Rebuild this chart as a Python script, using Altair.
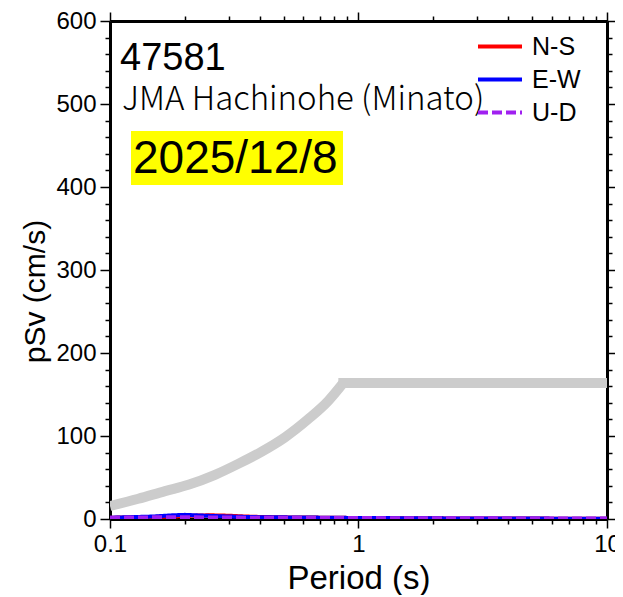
import altair as alt
import pandas as pd

# ---- data ----
ref_period = [0.1, 0.13, 0.1665, 0.2066, 0.2645, 0.328, 0.408, 0.506, 0.628, 0.756, 0.869, 10]
ref_psv = [15.6, 24.4, 33.6, 41.2, 53.2, 66.4, 81.2, 98.4, 120.4, 142.4, 164, 164]
ref_corner_period = 0.869

comp_period = [0.1, 0.12, 0.15, 0.18, 0.2, 0.22, 0.25, 0.3, 0.35, 0.4, 0.5, 0.6, 0.8, 1, 1.5, 2, 3, 5, 7, 10]
ns_psv = [1.5, 2, 2.5, 3, 3.5, 4, 4.5, 4, 3, 2.5, 2, 1.8, 1.5, 1.2, 1, 0.8, 0.6, 0.5, 0.4, 0.3]
ew_psv = [1.5, 2.2, 3, 4.5, 5, 4.5, 3.8, 3, 2.5, 2.2, 2, 1.8, 1.5, 1.2, 1, 0.8, 0.6, 0.5, 0.4, 0.3]
ud_psv = [1.5, 1.7, 2, 2, 2, 2, 1.9, 1.8, 1.6, 1.5, 1.4, 1.3, 1.2, 1.1, 1, 0.9, 0.8, 0.7, 0.6, 0.5]

components = ["N-S", "E-W", "U-D"]
comp_colors = ["#ff0000", "#0000ff", "#a020f0"]
comp_dash = [[1, 0], [1, 0], [10, 4]]

x_ticks = [0.1, 0.2, 0.3, 0.4, 0.5, 0.6, 0.7, 0.8, 0.9, 1, 2, 3, 4, 5, 6, 7, 8, 9, 10]
y_ticks = list(range(0, 620, 20))

station_code = "47581"
station_name = "JMA Hachinohe (Minato)"
event_date = "2025/12/8"

FONT = "Liberation Sans"

ref_df = pd.DataFrame({"period": ref_period, "psv": ref_psv})
rows = []
for name, vals in zip(components, [ns_psv, ew_psv, ud_psv]):
    for p, v in zip(comp_period, vals):
        rows.append({"period": p, "psv": v, "comp": name})
comp_df = pd.DataFrame(rows)

x_scale = alt.Scale(type="log", domain=[0.1, 10], nice=False)
y_scale = alt.Scale(domain=[0, 600], nice=False, zero=False)

x_major = "datum.value == 0.1 || datum.value == 1 || datum.value == 10"
y_major = "datum.value % 100 == 0"

x_tick_size = {"condition": {"test": x_major, "value": 9}, "value": 5}
y_tick_size = {"condition": {"test": y_major, "value": 10}, "value": 5}

common_axis = dict(grid=False, domainColor="black", domainWidth=3, tickColor="black",
                   tickWidth=1.5, labelFont=FONT, titleFont=FONT, labelColor="black",
                   titleColor="black", titleFontWeight="normal")

x_bottom = alt.Axis(orient="bottom", values=x_ticks, tickSize=x_tick_size,
                    labelExpr=f"({x_major}) ? format(datum.value, '~g') : ''",
                    labelFontSize=24, labelPadding=4, labelFlush=False, labelOverlap=False,
                    title="Period (s)", titleFontSize=33, titleBaseline="alphabetic",
                    titleY=69, **common_axis)
y_left = alt.Axis(orient="left", values=y_ticks, tickSize=y_tick_size,
                  labelExpr=f"({y_major}) ? datum.label : ''",
                  labelFontSize=24, labelPadding=4, labelOverlap=False,
                  title="pSv (cm/s)", titleFontSize=30, titleBaseline="alphabetic",
                  titleAngle=270, titleX=-66, titleY=270, titleAlign="center", **common_axis)
x_top = alt.Axis(orient="top", values=x_ticks, tickSize=x_tick_size, labels=False,
                 title=None, **common_axis)
y_right = alt.Axis(orient="right", values=y_ticks, tickSize=y_tick_size, labels=False,
                   title=None, **common_axis)

ref_rise = alt.Chart(ref_df).transform_filter(
    f"datum.period <= {ref_corner_period}"
).mark_line(color="#cccccc", strokeWidth=10, clip=True, interpolate="monotone").encode(
    x=alt.X("period:Q", scale=x_scale, axis=x_bottom),
    y=alt.Y("psv:Q", scale=y_scale, axis=y_left),
)

ref_flat = alt.Chart(ref_df).transform_filter(
    f"datum.period >= {ref_corner_period}"
).mark_line(color="#cccccc", strokeWidth=10, clip=True, strokeCap="square").encode(
    x=alt.X("period:Q", scale=x_scale, axis=None),
    y=alt.Y("psv:Q", scale=y_scale, axis=None),
)

legend_opts = dict(title=None, orient="none", legendX=366, legendY=10, padding=0,
                   symbolType="stroke", symbolStrokeWidth=4, symbolSize=1936,
                   labelFont=FONT, labelFontSize=25, labelColor="black", labelOffset=8,
                   labelLimit=200, rowPadding=2, clipHeight=31)

comp_lines = alt.Chart(comp_df).mark_line(strokeWidth=4, clip=True).encode(
    x=alt.X("period:Q", scale=x_scale, axis=x_top),
    y=alt.Y("psv:Q", scale=y_scale, axis=y_right),
    color=alt.Color("comp:N", scale=alt.Scale(domain=components, range=comp_colors),
                    legend=alt.Legend(**legend_opts)),
    strokeDash=alt.StrokeDash("comp:N", scale=alt.Scale(domain=components, range=comp_dash),
                              legend=alt.Legend(**legend_opts)),
    order=alt.Order("idx:Q"),
).transform_calculate(idx="datum.comp == 'N-S' ? 0 : datum.comp == 'E-W' ? 1 : 2")

one = pd.DataFrame({"k": [0]})

code_text = alt.Chart(pd.DataFrame({"t": [station_code]})).mark_text(
    font=FONT, fontSize=38, align="left", baseline="alphabetic", color="black").encode(
    text="t:N", x=alt.value(10), y=alt.value(49))

name_text = alt.Chart(pd.DataFrame({"t": [station_name]})).mark_text(
    font="Noto Sans CJK JP", fontSize=33, fontWeight=300, align="left",
    baseline="alphabetic", color="black").encode(
    text="t:N", x=alt.value(12), y=alt.value(89))

date_box = alt.Chart(one).mark_rect(color="#ffff00").encode(
    x=alt.value(21), x2=alt.value(233), y=alt.value(110), y2=alt.value(164))

date_text = alt.Chart(pd.DataFrame({"t": [event_date]})).mark_text(
    font=FONT, fontSize=46, align="left", baseline="alphabetic", color="black").encode(
    text="t:N", x=alt.value(23), y=alt.value(152))

chart = alt.layer(
    ref_rise, ref_flat, comp_lines, date_box, code_text, name_text, date_text
).resolve_axis(
    x="independent", y="independent"
).properties(
    width=497, height=498,
    autosize=alt.AutoSizeParams(type="none"),
    padding={"left": 102, "top": 13, "right": 8, "bottom": 76},
).configure_view(
    strokeWidth=0
)

chart.save("out.html", embed_options={"renderer": "svg", "actions": False})
